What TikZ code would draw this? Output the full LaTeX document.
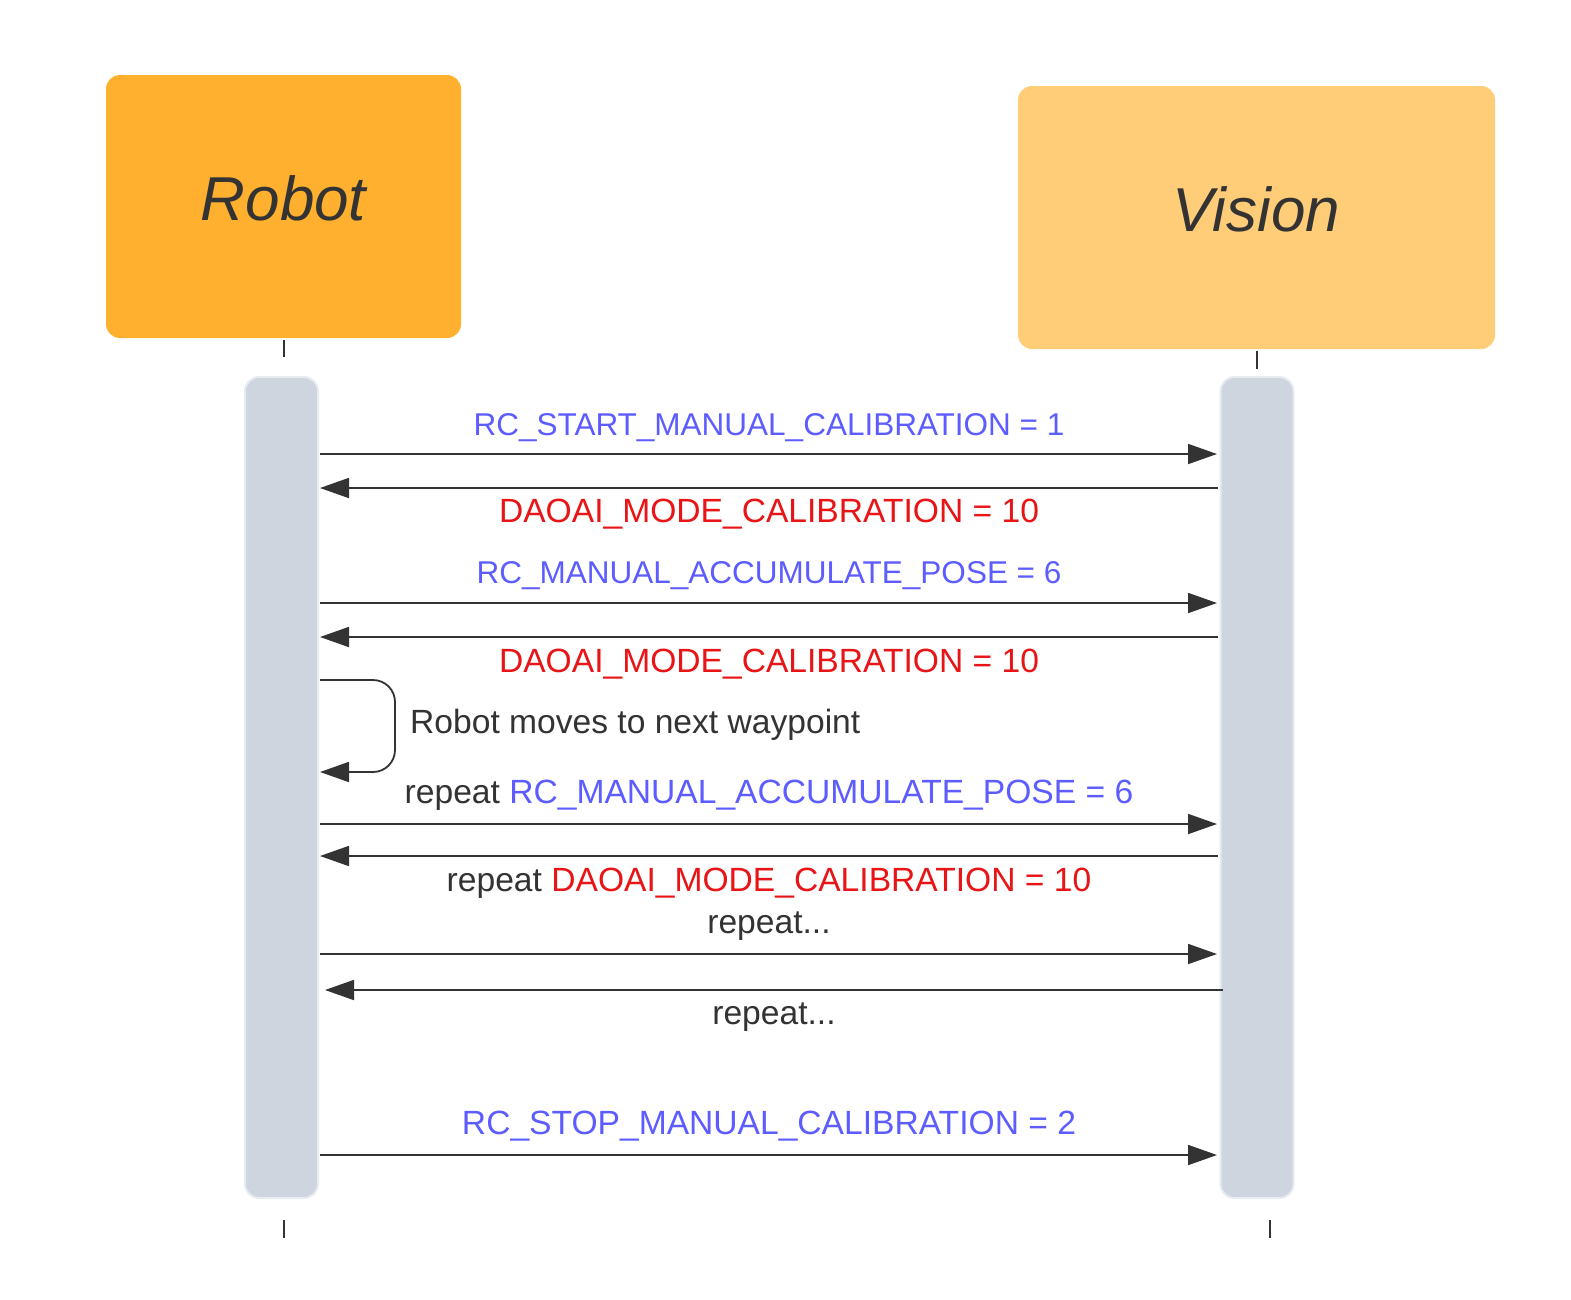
\documentclass[tikz,border=0pt]{standalone}
\usepackage{fontspec}
\setmainfont{Liberation Sans}
\usetikzlibrary{arrows.meta}
\definecolor{robotorange}{HTML}{FFB02E}
\definecolor{visionyellow}{HTML}{FFCC78}
\definecolor{barfill}{HTML}{CED5DE}
\definecolor{barline}{HTML}{E8EBEF}
\definecolor{msgblue}{HTML}{5C5CFF}
\definecolor{msgred}{HTML}{E81416}
\definecolor{ink}{HTML}{333333}
\tikzset{>={Triangle[width=20pt,length=29pt]}}
\tikzset{
  actor/.style={rounded corners=14pt, inner sep=0pt, text=ink, text depth=16pt,
    font=\fontsize{62}{70}\selectfont\itshape},
  bar/.style={draw=barline, fill=barfill, line width=2pt, rounded corners=14pt,
    minimum width=73pt, minimum height=821pt, inner sep=0pt},
  msg/.style={->, draw=ink, line width=1.8pt},
  tick/.style={draw=ink, line width=1.5pt},
  lbl/.style={anchor=base, inner sep=0pt, text=ink, font=\fontsize{33.6}{40}\selectfont},
  smalllbl/.style={lbl, font=\fontsize{31.5}{38}\selectfont}
}

\begin{document}
\begin{tikzpicture}[x=1pt,y=-1pt]

  \useasboundingbox[fill=white] (0,0) rectangle (1571,1299);

  %% participants
  \node[actor, fill=robotorange, minimum width=355pt, minimum height=263pt] (robot) at (283.5,206.5) {Robot};
  \node[actor, fill=visionyellow, minimum width=477pt, minimum height=263pt] (vision) at (1256.5,217.5) {Vision};

  %% activation bars
  \node[bar] (robotbar) at (281.5,787.5) {};
  \node[bar] (visionbar) at (1257,787.5) {};

  %% lifeline stubs
  \draw[tick] (284,340) -- (284,357);
  \draw[tick] (1257,351) -- (1257,369);
  \draw[tick] (284,1220) -- (284,1238);
  \draw[tick] (1270,1220) -- (1270,1238);

  %% message ends
  \coordinate (r1) at (320,454);  \coordinate (v1) at (1217,454);
  \coordinate (r2) at (320,488);  \coordinate (v2) at (1218,488);
  \coordinate (r3) at (320,603);  \coordinate (v3) at (1217,603);
  \coordinate (r4) at (320,637);  \coordinate (v4) at (1218,637);
  \coordinate (loopout) at (320,680); \coordinate (loopin) at (320,772);
  \coordinate (r6) at (320,824);  \coordinate (v6) at (1217,824);
  \coordinate (r7) at (320,856);  \coordinate (v7) at (1218,856);
  \coordinate (r8) at (320,954);  \coordinate (v8) at (1217,954);
  \coordinate (r9) at (325,990);  \coordinate (v9) at (1223,990);
  \coordinate (r10) at (320,1155); \coordinate (v10) at (1217,1155);

  \draw[msg] (r1) -- (v1); %% R->V
  \node[smalllbl, text=msgblue] (start) at (769,435) {RC\_START\_MANUAL\_CALIBRATION = 1};

  \draw[msg] (v2) -- (r2); %% R<-V
  \node[lbl, text=msgred] (mode1) at (769,522) {DAOAI\_MODE\_CALIBRATION = 10};

  \draw[msg] (r3) -- (v3); %% R->V
  \node[smalllbl, text=msgblue] (pose1) at (769,583) {RC\_MANUAL\_ACCUMULATE\_POSE = 6};

  \draw[msg] (v4) -- (r4); %% R<-V
  \node[lbl, text=msgred] (mode2) at (769,672) {DAOAI\_MODE\_CALIBRATION = 10};

  \draw[msg, rounded corners=22pt] (loopout) -- ++(75,0) -- ++(0,92) -- (loopin); %% R->R
  \node[lbl, anchor=base west] (moves) at (410,733) {Robot moves to next waypoint};

  \draw[msg] (r6) -- (v6); %% R->V
  \node[lbl] (pose2) at (769,803) {repeat \textcolor{msgblue}{RC\_MANUAL\_ACCUMULATE\_POSE = 6}};

  \draw[msg] (v7) -- (r7); %% R<-V
  \node[lbl] (mode3) at (769,891) {repeat \textcolor{msgred}{DAOAI\_MODE\_CALIBRATION = 10}};

  \draw[msg] (r8) -- (v8); %% R->V
  \node[lbl] (again1) at (769,933) {repeat...};

  \draw[msg] (v9) -- (r9); %% R<-V
  \node[lbl] (again2) at (774,1024) {repeat...};

  \draw[msg] (r10) -- (v10); %% R->V
  \node[lbl, text=msgblue] (stop) at (769,1134) {RC\_STOP\_MANUAL\_CALIBRATION = 2};

\end{tikzpicture}
\end{document}
